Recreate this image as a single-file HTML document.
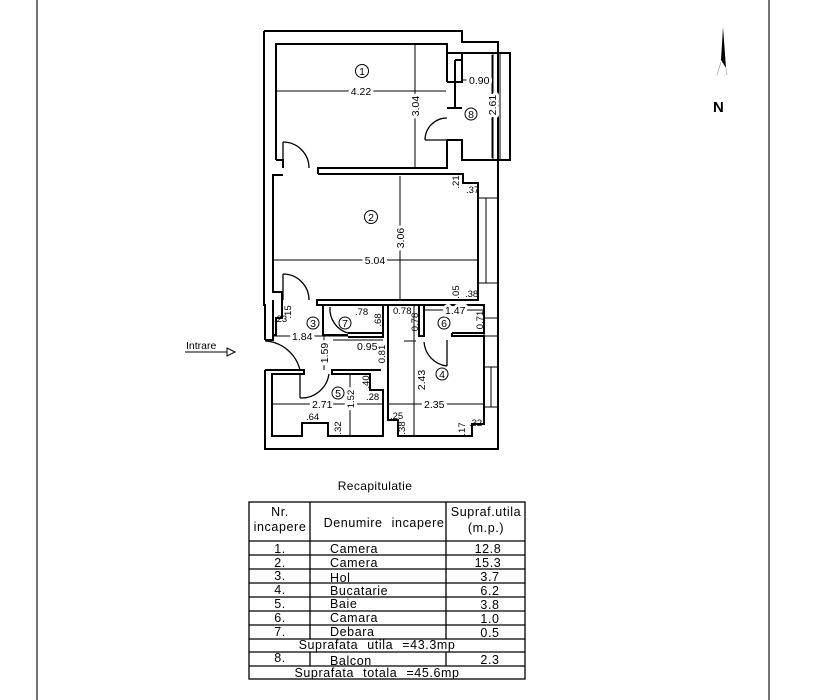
<!DOCTYPE html>
<html><head><meta charset="utf-8"><style>
html,body{margin:0;padding:0;background:#fff;}
svg{display:block;}
text{font-family:"Liberation Sans",sans-serif;fill:#000;}
.h{stroke:#fff;stroke-width:6px;paint-order:stroke fill;stroke-linejoin:round;}
</style></head><body>
<svg width="817" height="700" viewBox="0 0 817 700" xmlns="http://www.w3.org/2000/svg">
<rect width="817" height="700" fill="#fff"/>
<line x1="37" y1="0" x2="37" y2="700" stroke="#444" stroke-width="1.5"/>
<line x1="769" y1="0" x2="769" y2="700" stroke="#444" stroke-width="1.5"/>

<g fill="none" stroke="#000" stroke-width="2">
<polyline points="264,31 462,31 462,42 498,42 498,449 265,449 265,370"/>
<polyline points="265,340 265,305 264,305 264,31"/>
<polyline points="276,160 276,44 447,44 447,82"/>
<polyline points="447,140 447,168 318,168 318,174"/>
<polyline points="276,160 283,160 283,168"/>
<polyline points="447,53 510,53 510,160 462,160 462,140 447,140"/>
<polyline points="447,82 462,82 462,53"/>
<line x1="455" y1="60" x2="455" y2="108"/>
<line x1="455" y1="60" x2="462" y2="60"/>
<line x1="447" y1="108" x2="462" y2="108"/>
<line x1="493" y1="53" x2="493" y2="160" stroke-width="1"/>
<line x1="500" y1="53" x2="500" y2="160" stroke-width="1"/>
<polyline points="283,175 273,175 273,292 282,292 282,300"/>
<polyline points="318,174 463,174 463,183 478,183 478,300 317,300 317,305 478,305"/>
<rect x="478" y="198" width="20" height="85" stroke-width="1"/>
<line x1="486" y1="198" x2="486" y2="283" stroke-width="1"/>
<polyline points="273,300 273,340 265,340"/>
<polyline points="282,300 282,318 276,318 276,335 273,335"/>
<polyline points="323,305 323,335 348,335"/>
<polyline points="348,333 383,333 383,305"/>
<polyline points="383,305 388,305 388,420 398,420 398,436 472,436 472,424 484,424 484,336 452,336 452,333"/>
<polyline points="383,305 383,337 348,337"/>
<rect x="419" y="305" width="5" height="31"/>
<polyline points="424,305 484,305 484,333 452,333"/>
<rect x="484" y="318" width="14" height="18" stroke-width="1"/>
<rect x="484" y="367" width="14" height="40" stroke-width="1"/>
<line x1="491" y1="367" x2="491" y2="407" stroke-width="1"/>
<polyline points="265,370 304,370 304,374 272,374 272,436 302,436 302,423 328,423 328,436 383,436 383,390 370,390 370,374 332,374 332,370 381,370"/>
</g>

<g fill="none" stroke="#000" stroke-width="1.3">
<line x1="283" y1="142" x2="283" y2="168"/>
<path d="M283,142 A26,26 0 0 1 309,168"/>
<line x1="283" y1="274" x2="283" y2="300"/>
<path d="M283,274 A26,26 0 0 1 309,300"/>
<line x1="425" y1="140" x2="447" y2="140"/>
<path d="M425,140 A22,22 0 0 1 447,118"/>
<path d="M265,341 A38,38 0 0 1 300,370"/>
<path d="M300,398 A28,28 0 0 0 329,374"/>
<line x1="300" y1="374" x2="300" y2="398"/>
<path d="M330,307 A25,25 0 0 0 348,333"/>
<path d="M424,342 A26,26 0 0 0 447,366"/>
<line x1="447" y1="340" x2="447" y2="366"/>
</g>

<g stroke="#000" stroke-width="1" fill="none">
<line x1="277" y1="91" x2="446" y2="91"/>
<line x1="415" y1="45" x2="415" y2="167"/>
<line x1="463" y1="80" x2="492" y2="80"/>
<line x1="492" y1="55" x2="492" y2="158"/>
<line x1="274" y1="260" x2="477" y2="260"/>
<line x1="400" y1="176" x2="400" y2="299"/>
<line x1="274" y1="336" x2="348" y2="336"/>
<line x1="333" y1="340" x2="383" y2="340"/>
<line x1="404" y1="341" x2="416" y2="341"/>
<line x1="324" y1="336" x2="324" y2="370"/>
<line x1="388" y1="342" x2="388" y2="370"/>
<line x1="414" y1="305" x2="414" y2="436"/>
<line x1="425" y1="310" x2="483" y2="310"/>
<line x1="273" y1="404" x2="382" y2="404"/>
<line x1="350" y1="375" x2="350" y2="435"/>
<line x1="388" y1="404" x2="483" y2="404"/>
<line x1="185" y1="352" x2="227" y2="352"/>
<polygon points="227,348 235,352 227,356" />
<circle cx="362" cy="71" r="6.5"/>
<circle cx="471" cy="114" r="6"/>
<circle cx="371" cy="217" r="6.5"/>
<circle cx="313" cy="323" r="6"/>
<circle cx="345" cy="323" r="6"/>
<circle cx="444" cy="323" r="6"/>
<circle cx="442" cy="374" r="6"/>
<circle cx="338" cy="393" r="6"/>
</g>

<g font-size="10.5" text-anchor="middle">
<text x="362" y="75">1</text>
<text x="471" y="118">8</text>
<text x="371" y="221">2</text>
<text x="313" y="327">3</text>
<text x="345" y="327">7</text>
<text x="444" y="327">6</text>
<text x="442" y="378">4</text>
<text x="338" y="397">5</text>
</g>

<g font-size="10.5">
<text class="h" x="361" y="95" text-anchor="middle">4.22</text>
<text class="h" x="419" y="106" transform="rotate(-90 419 106)" text-anchor="middle">3.04</text>
<text class="h" x="469" y="84">0.90</text>
<text class="h" x="496" y="105" transform="rotate(-90 496 105)" text-anchor="middle">2.61</text>
<text class="h" x="375" y="264" text-anchor="middle">5.04</text>
<text class="h" x="404" y="238" transform="rotate(-90 404 238)" text-anchor="middle">3.06</text>
<text x="459" y="182" transform="rotate(-90 459 182)" text-anchor="middle" font-size="9.5">.21</text>
<text x="466" y="193" font-size="9.5">.37</text>
<text x="459" y="292" transform="rotate(-90 459 292)" text-anchor="middle" font-size="9.5">.05</text>
<text x="465" y="297" font-size="9.5">.38</text>
<text x="291" y="312" transform="rotate(-90 291 312)" text-anchor="middle" font-size="9.5">.15</text>
<text x="274" y="322" font-size="9.5">.23</text>
<text class="h" x="292" y="340">1.84</text>
<text class="h" x="328" y="353" transform="rotate(-90 328 353)" text-anchor="middle">1.59</text>
<text x="355" y="315" font-size="9.5">.78</text>
<text x="381" y="320" transform="rotate(-90 381 320)" text-anchor="middle" font-size="9.5">.68</text>
<text x="357" y="350">0.95</text>
<text x="385" y="354" transform="rotate(-90 385 354)" text-anchor="middle" font-size="9.5">0.81</text>
<text x="393" y="314" font-size="9.5">0.78</text>
<text x="418" y="322" transform="rotate(-90 418 322)" text-anchor="middle" font-size="9.5">0.78</text>
<text class="h" x="445" y="314">1.47</text>
<text x="483" y="320" transform="rotate(-90 483 320)" text-anchor="middle" font-size="9.5">0.71</text>
<text class="h" x="425" y="380" transform="rotate(-90 425 380)" text-anchor="middle">2.43</text>
<text class="h" x="424" y="408">2.35</text>
<text class="h" x="312" y="408">2.71</text>
<text class="h" x="354" y="399" transform="rotate(-90 354 399)" text-anchor="middle" font-size="9.5">1.52</text>
<text x="369" y="382" transform="rotate(-90 369 382)" text-anchor="middle" font-size="9.5">.40</text>
<text x="366" y="400" font-size="9.5">.28</text>
<text x="306" y="420" font-size="9.5">.64</text>
<text x="341" y="428" transform="rotate(-90 341 428)" text-anchor="middle" font-size="9.5">.32</text>
<text x="390" y="419" font-size="9.5">.25</text>
<text x="405" y="428" transform="rotate(-90 405 428)" text-anchor="middle" font-size="9.5">.38</text>
<text x="465" y="429" transform="rotate(-90 465 429)" text-anchor="middle" font-size="9.5">.17</text>
<text x="469" y="426" font-size="9.5">.32</text>
<text x="186" y="349" font-family="Liberation Mono" font-size="10.5">Intrare</text>
</g>

<polygon points="723,27 721,60 726,68" fill="#000"/>
<line x1="721" y1="62" x2="717" y2="75" stroke="#aaa" stroke-width="0.8"/>
<line x1="726" y1="68" x2="727" y2="75" stroke="#aaa" stroke-width="0.8"/>
<text x="713" y="112" font-size="15" font-weight="bold">N</text>

<text x="375" y="490" text-anchor="middle" font-size="12" letter-spacing="0.4">Recapitulatie</text>
<g stroke="#000" stroke-width="1.3" fill="none">
<rect x="249" y="502" width="276" height="177"/>
<line x1="249" y1="541" x2="525" y2="541"/>
<line x1="249" y1="555" x2="525" y2="555"/>
<line x1="249" y1="569" x2="525" y2="569"/>
<line x1="249" y1="583" x2="525" y2="583"/>
<line x1="249" y1="597" x2="525" y2="597"/>
<line x1="249" y1="611" x2="525" y2="611"/>
<line x1="249" y1="625" x2="525" y2="625"/>
<line x1="249" y1="639" x2="525" y2="639"/>
<line x1="249" y1="652" x2="525" y2="652"/>
<line x1="249" y1="666" x2="525" y2="666"/>
<line x1="310" y1="502" x2="310" y2="639"/>
<line x1="446" y1="502" x2="446" y2="639"/>
<line x1="310" y1="652" x2="310" y2="666"/>
<line x1="446" y1="652" x2="446" y2="666"/>
</g>
<g font-size="12.5" letter-spacing="0.6">
<text x="280" y="516" text-anchor="middle">Nr.</text>
<text x="280" y="531" text-anchor="middle">incapere</text>
<text x="384" y="527" text-anchor="middle" word-spacing="5">Denumire incapere</text>
<text x="486" y="516" text-anchor="middle">Supraf.utila</text>
<text x="486" y="532" text-anchor="middle">(m.p.)</text>
<text x="280" y="553" text-anchor="middle">1.</text><text x="330" y="553">Camera</text><text x="488" y="553" text-anchor="middle">12.8</text>
<text x="280" y="567" text-anchor="middle">2.</text><text x="330" y="567">Camera</text><text x="488" y="567" text-anchor="middle">15.3</text>
<text x="280" y="580" text-anchor="middle">3.</text><text x="330" y="582">Hol</text><text x="490" y="581" text-anchor="middle">3.7</text>
<text x="280" y="594" text-anchor="middle">4.</text><text x="330" y="595">Bucatarie</text><text x="490" y="595" text-anchor="middle">6.2</text>
<text x="280" y="608" text-anchor="middle">5.</text><text x="330" y="608">Baie</text><text x="490" y="609" text-anchor="middle">3.8</text>
<text x="280" y="622" text-anchor="middle">6.</text><text x="330" y="622">Camara</text><text x="490" y="623" text-anchor="middle">1.0</text>
<text x="280" y="636" text-anchor="middle">7.</text><text x="330" y="636">Debara</text><text x="490" y="637" text-anchor="middle">0.5</text>
<text x="377" y="649" text-anchor="middle" word-spacing="5">Suprafata utila =43.3mp</text>
<text x="280" y="662" text-anchor="middle">8.</text><text x="330" y="665">Balcon</text><text x="490" y="664" text-anchor="middle">2.3</text>
<text x="377" y="677" text-anchor="middle" word-spacing="5">Suprafata totala =45.6mp</text>
</g>
</svg>
</body></html>
